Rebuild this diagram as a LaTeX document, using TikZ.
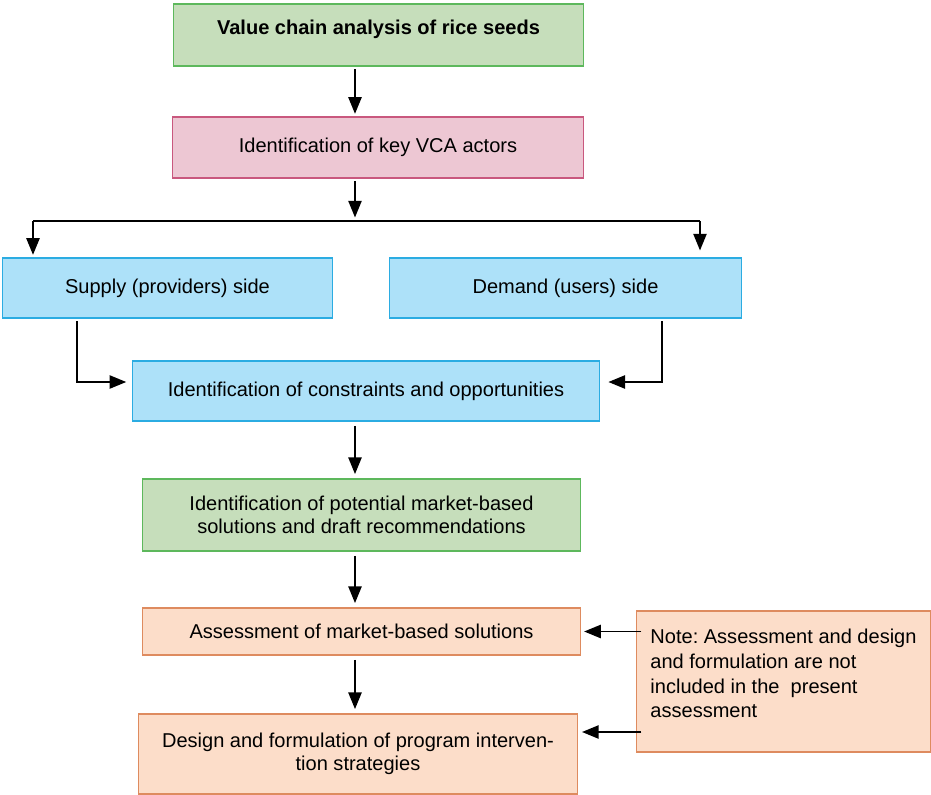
\documentclass[tikz,border=0pt]{standalone}
\usepackage{fontspec}
\setmainfont{Liberation Sans}
\usepackage{xcolor}
\usepackage{tikz}
\usetikzlibrary{positioning,calc,arrows.meta}
\definecolor{greenbg}{HTML}{C6DEBB}
\definecolor{greenln}{HTML}{5DB85C}
\definecolor{pinkbg}{HTML}{EDC7D3}
\definecolor{pinkln}{HTML}{C9587E}
\definecolor{bluebg}{HTML}{ADE1F9}
\definecolor{blueln}{HTML}{2BACE2}
\definecolor{peachbg}{HTML}{FCDDC9}
\definecolor{peachln}{HTML}{DE8B5F}
\frenchspacing

\tikzset{
  box/.style={draw, line width=0.6pt, inner sep=0pt, align=center,
    font=\fontsize{11.4}{13.4}\selectfont},
  greenbox/.style={box, fill=greenbg, draw=greenln},
  pinkbox/.style={box, fill=pinkbg, draw=pinkln},
  bluebox/.style={box, fill=bluebg, draw=blueln},
  peachbox/.style={box, fill=peachbg, draw=peachln},
  arr/.style={line width=1.1pt, -{Triangle[length=9.5pt,width=7.5pt]},
    shorten <=1.5pt, shorten >=1.5pt},
}

\begin{document}
\begin{tikzpicture}[x=0.02cm, y=-0.02cm]
  \useasboundingbox (0,0) rectangle (931,795);

  % Boxes
  \node[greenbox, minimum width=8.22cm, minimum height=1.24cm] (title) at (378.5,35)
    {\textbf{Value chain analysis of rice seeds}\\[-4pt]\mbox{}};
  \node[pinkbox, minimum width=8.24cm, minimum height=1.22cm] (actors) at (378,147.5)
    {Identification of key VCA actors};
  \node[bluebox, minimum width=6.62cm, minimum height=1.2cm] (supply) at (167.5,288)
    {Supply (providers) side};
  \node[bluebox, minimum width=7.06cm, minimum height=1.2cm] (demand) at (565.5,288)
    {Demand (users) side};
  \node[bluebox, minimum width=9.36cm, minimum height=1.2cm] (cons) at (366,391)
    {Identification of constraints and opportunities};
  \node[greenbox, minimum width=8.78cm, minimum height=1.44cm] (sol) at (361.5,515)
    {Identification of potential market-based\\solutions and draft recommendations};
  \node[peachbox, minimum width=8.78cm, minimum height=0.94cm] (assess) at (361.5,631.5)
    {Assessment of market-based solutions};
  \node[peachbox, minimum width=8.8cm, minimum height=1.6cm] (design) at (358,754)
    {Design and formulation of program interven-\\tion strategies};
  \node[peachbox, align=left, minimum width=5.88cm, minimum height=2.82cm,
    font=\fontsize{11.4}{14}\selectfont] (note) at (783.5,681.5)
    {Note: Assessment and design\\and formulation are not\\included in the\ \ present\\assessment\\[-5pt]\mbox{}};

  % Helper points
  \coordinate (spine) at (355,0);
  \coordinate (busL) at (33,221);
  \coordinate (busR) at (700,221);
  \coordinate (supX) at (77,0);
  \coordinate (demX) at (662,0);
  \coordinate (joinY) at (0,382);
  \coordinate (noteY) at (0,732);

  % Connections
  \draw[arr] (title.south -| spine) -- (actors.north -| spine);
  \draw[arr, shorten >=2pt] (actors.south -| spine) -- (spine |- busL);
  \draw[line width=1.1pt] (busL) -- (busR);
  \draw[arr, shorten <=0pt] (busL) -- (busL |- supply.north);
  \draw[arr, shorten <=0pt, shorten >=4pt] (busR) -- (busR |- demand.north);

  \draw[arr, shorten >=3pt] (supply.south -| supX) |- (cons.west |- joinY);
  \draw[arr, shorten >=4.5pt] (demand.south -| demX) |- (cons.east |- joinY);

  \draw[arr, shorten <=2.5pt, shorten >=2.5pt] (cons.south -| spine) -- (sol.north -| spine);
  \draw[arr, shorten <=2.5pt, shorten >=2.5pt] (sol.south -| spine) -- (assess.north -| spine);
  \draw[arr, shorten <=2.5pt, shorten >=2.5pt] (assess.south -| spine) -- (design.north -| spine);

  \draw[arr, shorten <=-3pt] (note.west |- assess) -- (assess.east);
  \draw[arr, shorten <=-3pt, shorten >=2pt] (note.west |- noteY) -- (design.east |- noteY);
\end{tikzpicture}
\end{document}
